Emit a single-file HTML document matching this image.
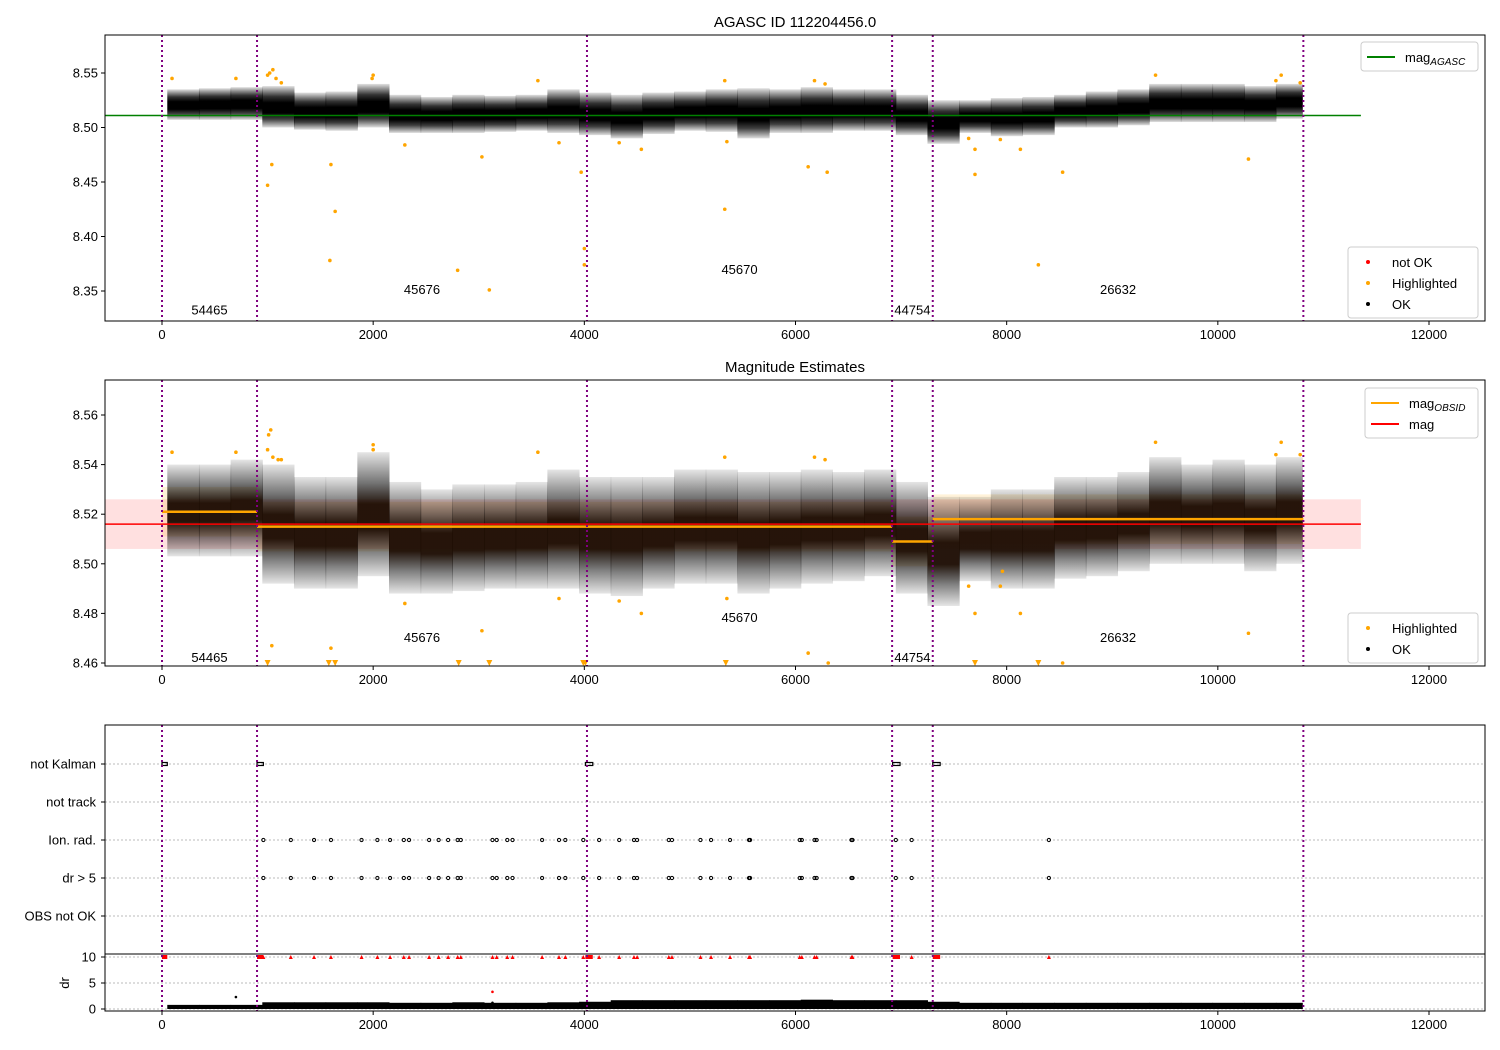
<!DOCTYPE html>
<html><head><meta charset="utf-8"><style>
html,body{margin:0;padding:0;background:#fff}
svg{font-family:"Liberation Sans","DejaVu Sans",sans-serif;display:block}
</style></head><body>
<svg id="fig" width="1500" height="1050" viewBox="0 0 1500 1050" xmlns="http://www.w3.org/2000/svg">
<defs>
<linearGradient id="cg" x1="0" y1="0" x2="0" y2="1">
<stop offset="0" stop-color="#000" stop-opacity="0.12"/>
<stop offset="0.25" stop-color="#000" stop-opacity="0.8"/>
<stop offset="0.4" stop-color="#000" stop-opacity="1"/>
<stop offset="0.65" stop-color="#000" stop-opacity="1"/>
<stop offset="0.8" stop-color="#000" stop-opacity="0.75"/>
<stop offset="1" stop-color="#000" stop-opacity="0.12"/>
</linearGradient>
<linearGradient id="cg2" x1="0" y1="0" x2="0" y2="1">
<stop offset="0" stop-color="#000" stop-opacity="0.1"/>
<stop offset="0.25" stop-color="#000" stop-opacity="0.55"/>
<stop offset="0.42" stop-color="#1a0a00" stop-opacity="0.95"/>
<stop offset="0.62" stop-color="#1a0a00" stop-opacity="0.95"/>
<stop offset="0.8" stop-color="#000" stop-opacity="0.5"/>
<stop offset="1" stop-color="#000" stop-opacity="0.1"/>
</linearGradient>
</defs>
</svg>
<script>
// ---- data ----
const binStart = [50,350,650,950,1250,1550,1850,2150,2450,2750,3050,3350,3650,3950,4250,4550,4850,5150,5450,5750,6050,6350,6650,6950,7250,7550,7850,8150,8450,8750,9050,9350,9650,9950,10250,10550];
const topLo = [8.507,8.507,8.507,8.500,8.498,8.497,8.500,8.495,8.495,8.495,8.496,8.497,8.495,8.493,8.490,8.494,8.497,8.496,8.490,8.495,8.495,8.497,8.497,8.493,8.485,8.495,8.492,8.493,8.500,8.500,8.502,8.505,8.505,8.505,8.505,8.508];
const topHi = [8.535,8.536,8.537,8.538,8.532,8.533,8.540,8.530,8.528,8.530,8.529,8.530,8.535,8.532,8.530,8.532,8.533,8.535,8.536,8.535,8.537,8.535,8.535,8.530,8.525,8.525,8.527,8.528,8.530,8.533,8.535,8.540,8.540,8.540,8.538,8.540];
const midLo = [8.503,8.503,8.503,8.492,8.490,8.490,8.495,8.488,8.488,8.489,8.490,8.490,8.490,8.488,8.487,8.490,8.492,8.492,8.488,8.490,8.492,8.493,8.495,8.488,8.483,8.493,8.490,8.490,8.494,8.495,8.497,8.500,8.500,8.500,8.497,8.500];
const midHi = [8.540,8.540,8.542,8.540,8.535,8.535,8.545,8.533,8.530,8.532,8.532,8.533,8.538,8.535,8.535,8.535,8.538,8.538,8.537,8.537,8.538,8.537,8.538,8.533,8.527,8.527,8.530,8.530,8.535,8.535,8.537,8.543,8.540,8.542,8.540,8.543];
const drHi = [0.6,0.6,0.6,1.1,1.1,1.1,1.1,1.0,1.0,1.1,1.0,1.0,1.1,1.2,1.5,1.5,1.5,1.5,1.5,1.5,1.6,1.5,1.5,1.5,1.2,1.0,1.0,1.0,1.0,1.0,1.0,1.0,1.0,1.0,1.0,1.0];
const hlTopT = [95,700,1000,1020,1050,1080,1130,1000,1040,1600,1640,1590,2000,1990,2300,2800,3030,3100,3560,3760,3970,4000,4000,4330,4540,5330,5350,5330,6120,6180,6300,6280,7640,7700,7700,7940,8130,8300,8530,9410,10290,10600,10550,10780];
const hlTopV = [8.545,8.545,8.548,8.550,8.553,8.545,8.541,8.447,8.466,8.466,8.423,8.378,8.548,8.545,8.484,8.369,8.473,8.351,8.543,8.486,8.459,8.389,8.374,8.486,8.480,8.543,8.487,8.425,8.464,8.543,8.459,8.540,8.490,8.480,8.457,8.489,8.480,8.374,8.459,8.548,8.471,8.548,8.543,8.541];
const hlMidT = [95,700,1010,1030,1000,1050,1100,1130,1040,1600,2000,2000,2300,3030,3560,3760,4330,4540,5330,5350,6120,6180,6280,6310,7640,7700,7940,8130,8530,9410,10290,10600,10550,10780,7960];
const hlMidV = [8.545,8.545,8.552,8.554,8.546,8.543,8.542,8.542,8.467,8.466,8.548,8.546,8.484,8.473,8.545,8.486,8.485,8.480,8.543,8.486,8.464,8.543,8.542,8.460,8.491,8.480,8.491,8.480,8.460,8.549,8.472,8.549,8.544,8.544,8.497];
const clipT = [1000,1580,1640,2810,3100,3990,4010,5340,7700,8300];
const obsStart = [0,900,4025,6915,7300];
const obsEnd = [900,4025,6915,7300,10810];
const obsIds = ["54465","45676","45670","44754","26632"];
const obsLabTop = [8.333,8.352,8.370,8.333,8.352];
const obsLabMid = [8.4625,8.4705,8.4785,8.4625,8.4705];
const obsMag = [8.521,8.515,8.515,8.509,8.518];
const magAgasc = 8.511, magAll = 8.516, magErr = 0.010;
const flagT = [960,1220,1440,1600,1890,2040,2160,2290,2340,2530,2620,2710,2800,2830,3130,3170,3270,3320,3600,3760,3820,3990,4140,4330,4470,4500,4800,4830,5100,5200,5380,5560,5570,6040,6060,6180,6200,6530,6540,6950,7100,8400];
const kalStart = [0,900,4010,6920,7300];
const kalEnd = [50,960,4080,6990,7370];
const catLabels = ["not Kalman","not track","Ion. rad.","dr > 5","OBS not OK"];
const xTicks = [0,2000,4000,6000,8000,10000,12000];
const topYTicks = [8.35,8.40,8.45,8.50,8.55];
const midYTicks = [8.46,8.48,8.50,8.52,8.54,8.56];
const drTicks = [0,5,10];
// ---- geometry ----
const L=105,R=1485;
const X=t=>162+t*1267/12000;
const Yt=v=>73+(8.55-v)*1090;
const Ym=v=>415+(8.56-v)*2480;
const Yd=v=>1009-v*5.2;
const catY=[764,802,840,878,916];
const NS="http://www.w3.org/2000/svg";
const svg=document.getElementById('fig');
function el(tag,attrs,parent){const e=document.createElementNS(NS,tag);for(const k in attrs)e.setAttribute(k,attrs[k]);(parent||svg).appendChild(e);return e;}
function txt(s,attrs,parent){const e=el('text',attrs,parent);e.textContent=s;return e;}

function panel(top,bot,name,yTicks,Y,fmt){
  const g=el('g',{});
  
  
  xTicks.forEach(t=>{el('line',{x1:X(t),x2:X(t),y1:bot,y2:bot+4,stroke:'#000'},g);
    const l=txt(String(t),{x:X(t),y:bot+18,'font-size':13,'text-anchor':'middle'},g);
    
    });
  if(yTicks) yTicks.forEach(v=>{el('line',{x1:L-4,x2:L,y1:Y(v),y2:Y(v),stroke:'#000'},g);
    const l=txt(fmt(v),{x:L-7,y:Y(v)+4.5,'font-size':13,'text-anchor':'end'},g);
    
    });
  return g;
}
function frame(top,bot){el('rect',{x:L,y:top,width:R-L,height:bot-top,fill:'none',stroke:'#000','stroke-width':1});}
function vlines(top,bot){obsStart.concat([obsEnd[obsEnd.length-1]]).forEach(t=>{const l=el('line',{x1:X(t),x2:X(t),y1:top,y2:bot,stroke:'purple','stroke-width':2,'stroke-dasharray':'2,3'});
  
  });}
function cloud(lo,hi,Y,name,grad){
  const g=el('g',{});
  
  
  binStart.forEach((t,i)=>{const t2=Math.min(t+300,10800);
    const a=Y(hi[i]),b=Y(lo[i]);
    el('rect',{x:X(t),y:a,width:X(t2)-X(t)+0.5,height:b-a,fill:'url(#'+grad+')'},g);});
}
function dots(T,V,Y,color,name,r){
  T.forEach((t,i)=>{const c=el('circle',{cx:X(t),cy:Y(V[i]),r:r||2,fill:color});
    
    });
}
function legend(x,y,w,items){
  const g=el('g',{});
  
  
  el('rect',{x:x,y:y,width:w,height:items.length*21+8,rx:3,fill:'#fff','fill-opacity':0.85,stroke:'#ccc'},g);
  items.forEach((it,i)=>{const cy=y+15+i*21;
    const e=el('g',{},g);
    
    
    if(it.type==='line')el('line',{x1:x+6,x2:x+34,y1:cy,y2:cy,stroke:it.c,'stroke-width':2},e);
    else el('circle',{cx:x+20,cy:cy,r:2,fill:it.c},e);
    const t=txt(it.t,{x:x+44,y:cy+5,'font-size':13},e);
    if(it.sub){const s=el('tspan',{'font-size':10,dy:3,'font-style':'italic'},t);s.textContent=it.sub;}
  });
}

// ===== top panel =====
const TT=35,TB=321;
txt("AGASC ID 112204456.0",{x:795,y:27,'font-size':15,'text-anchor':'middle',});
panel(TT,TB,'top-axes',topYTicks,Yt,v=>v.toFixed(2));
cloud(topLo,topHi,Yt,'top-ok-points','cg');
dots(hlTopT,hlTopV,Yt,'orange','highlighted-point',1.8);
{const l=el('line',{x1:L,x2:X(11355),y1:Yt(magAgasc),y2:Yt(magAgasc),stroke:'green','stroke-width':1.5});

}
vlines(TT,TB);
obsIds.forEach((s,i)=>txt(s,{x:X((obsStart[i]+obsEnd[i])/2),y:Yt(obsLabTop[i])+5,'font-size':13,'text-anchor':'middle',}));
frame(TT,TB);
legend(1361,42,117,[{type:'line',c:'green',t:'mag',sub:'AGASC'}]);
legend(1348,247,130,[{c:'red',t:'not OK'},{c:'orange',t:'Highlighted'},{c:'#000',t:'OK'}]);

// ===== middle panel =====
const MT=380,MB=666;
txt("Magnitude Estimates",{x:795,y:372,'font-size':15,'text-anchor':'middle',});
panel(MT,MB,'middle-axes',midYTicks,Ym,v=>v.toFixed(2));
{const b=el('rect',{x:L,y:Ym(magAll+magErr),width:X(11355)-L,height:Ym(magAll-magErr)-Ym(magAll+magErr),fill:'red','fill-opacity':0.12});

}
obsStart.forEach((t,i)=>{const b=el('rect',{x:X(t),y:Ym(obsMag[i]+magErr),width:X(obsEnd[i])-X(t),height:Ym(obsMag[i]-magErr)-Ym(obsMag[i]+magErr),fill:'orange','fill-opacity':0.15});

});
cloud(midLo,midHi,Ym,'middle-ok-points','cg2');
dots(hlMidT,hlMidV,Ym,'orange','highlighted-point',1.8);
clipT.forEach(t=>{const p=el('path',{d:`M${X(t)-3},${Ym(8.46)-3} L${X(t)+3},${Ym(8.46)-3} L${X(t)},${Ym(8.46)+3} Z`,fill:'orange'});

});
obsStart.forEach((t,i)=>{const l=el('line',{x1:X(t),x2:X(obsEnd[i]),y1:Ym(obsMag[i]),y2:Ym(obsMag[i]),stroke:'orange','stroke-width':2.5});

});
{const l=el('line',{x1:L,x2:X(11355),y1:Ym(magAll),y2:Ym(magAll),stroke:'red','stroke-width':1.5});

}
vlines(MT,MB);
obsIds.forEach((s,i)=>txt(s,{x:X((obsStart[i]+obsEnd[i])/2),y:Ym(obsLabMid[i])+5,'font-size':13,'text-anchor':'middle',}));
frame(MT,MB);
legend(1365,388,113,[{type:'line',c:'orange',t:'mag',sub:'OBSID'},{type:'line',c:'red',t:'mag'}]);
legend(1348,613,130,[{c:'orange',t:'Highlighted'},{c:'#000',t:'OK'}]);

// ===== bottom panel =====
const BT=725,BB=1011;
panel(BT,BB,'bottom-axes',null,null,null);
catY.forEach((y,i)=>{el('line',{x1:L,x2:R,y1:y,y2:y,stroke:'#bbb','stroke-dasharray':'2,2'});
  el('line',{x1:L-4,x2:L,y1:y,y2:y,stroke:'#000'});
  const l=txt(catLabels[i],{x:L-9,y:y+4.5,'font-size':13,'text-anchor':'end'});
  
  });
drTicks.forEach(v=>{el('line',{x1:L,x2:R,y1:Yd(v),y2:Yd(v),stroke:'#bbb','stroke-dasharray':'2,2'});
  el('line',{x1:L-4,x2:L,y1:Yd(v),y2:Yd(v),stroke:'#000'});
  const l=txt(String(v),{x:L-9,y:Yd(v)+4.5,'font-size':13,'text-anchor':'end'});
  
  });
txt("dr",{x:0,y:0,'font-size':13,'text-anchor':'middle',transform:`translate(69,983) rotate(-90)`,});
el('line',{x1:L,x2:R,y1:954,y2:954,stroke:'#000','stroke-width':1});
kalStart.forEach((t,i)=>{const r=el('rect',{x:X(t),y:catY[0]-1.5,width:Math.max(X(kalEnd[i])-X(t),3),height:3,fill:'none',stroke:'#000','stroke-width':1.2});


const q=el('rect',{x:X(t),y:Yd(10)-2,width:Math.max(X(kalEnd[i])-X(t),3),height:4,fill:'red'});

});
flagT.forEach(t=>{[2,3].forEach(k=>{const c=el('circle',{cx:X(t),cy:catY[k],r:1.6,fill:'none',stroke:'#000','stroke-width':1});
  
  });
  const d=el('path',{d:`M${X(t)-2},${Yd(10)+2} L${X(t)+2},${Yd(10)+2} L${X(t)},${Yd(10)-2} Z`,fill:'red'});
  
  });
{const g=el('g',{});


binStart.forEach((t,i)=>{const t2=Math.min(t+300,10800);
  el('rect',{x:X(t),y:Yd(drHi[i])-1,width:X(t2)-X(t)+0.5,height:Yd(0)-Yd(drHi[i])+1,fill:'#000'},g);});}
dots([700,3130],[2.3,1.2],Yd,'#000','dr-point',1.3);
dots([3130],[3.3],Yd,'red','dr-point',1.3);
vlines(BT,BB);
frame(BT,BB);
</script>
</body></html>
